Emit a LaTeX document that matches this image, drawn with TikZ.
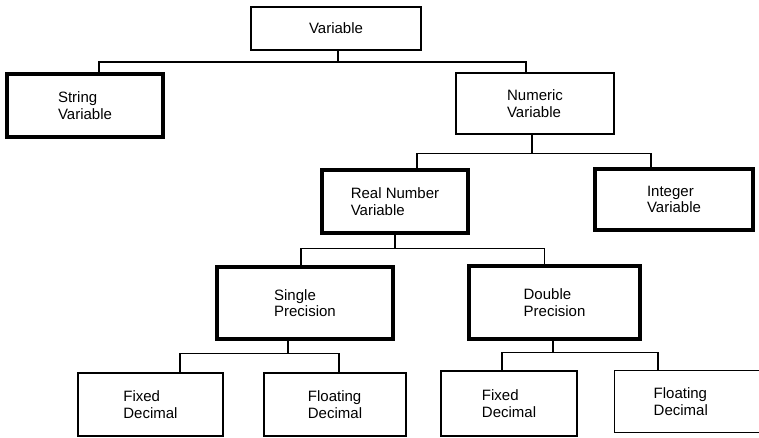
\documentclass[tikz,border=0pt]{standalone}
\usepackage{fontspec}
\setmainfont{Liberation Sans}
\begin{document}
\begin{tikzpicture}[x=1pt,y=-1pt,
  plainbox/.style={draw, align=left, inner sep=0pt, line width=1.4pt,
    font=\fontsize{15}{16.5}\selectfont},
  thickbox/.style={plainbox, line width=3.1pt},
  conn/.style={line width=1.1pt}]
\clip (0,0) rectangle (759,438);
\fill[white] (0,0) rectangle (759,438);
% boxes: centre, width, height
\node[plainbox, line width=2pt, minimum width=170, minimum height=43] (var) at (336,28.5) {Variable};
\node[thickbox, minimum width=156, minimum height=63] (str) at (85,105.5) {String\\Variable};
\node[plainbox, line width=2.3pt, minimum width=158, minimum height=61] (num) at (535,103.5) {Numeric\\Variable};
\node[thickbox, minimum width=146, minimum height=63] (real) at (395,201.5) {Real Number\\Variable};
\node[thickbox, minimum width=158, minimum height=61] (int) at (674,199.5) {Integer\\Variable};
\node[thickbox, minimum width=176, minimum height=72] (sgl) at (305,303) {Single\\Precision};
\node[thickbox, line width=3.3pt, minimum width=171, minimum height=73] (dbl) at (554.5,302.5) {Double\\Precision};
\node[plainbox, minimum width=145, minimum height=63] (fx1) at (150.5,404.5) {Fixed\\Decimal};
\node[plainbox, minimum width=142, minimum height=63] (fl1) at (335,404.5) {Floating\\Decimal};
\node[plainbox, minimum width=136, minimum height=65] (fx2) at (509,403.5) {Fixed\\Decimal};
\node[plainbox, minimum width=156, minimum height=62, anchor=north west, text width=110] (fl2) at (614,370) {\hspace*{16pt}Floating\\\hspace*{16pt}Decimal};
% connectors
\draw[conn] ([xshift=2pt]var.south) -- ++(0,11) coordinate (b1);
\draw[conn] ([xshift=14pt]str.north) |- (b1) -| ([xshift=-9pt]num.north);
\draw[conn] ([xshift=-3pt]num.south) -- ++(0,18) coordinate (b2);
\draw[conn] ([xshift=22pt]real.north) |- (b2) -| ([xshift=-23pt]int.north);
\draw[conn] (real.south) -- ++(0,14) coordinate (b3);
\draw[conn] ([xshift=-4pt]sgl.north) |- (b3) -| ([xshift=-10pt]dbl.north);
\draw[conn] ([xshift=-17pt]sgl.south) -- ++(0,13) coordinate (b4);
\draw[conn] ([xshift=29.5pt]fx1.north) |- (b4) -| ([xshift=4pt]fl1.north);
\draw[conn] ([xshift=-1.5pt]dbl.south) -- ++(0,12) coordinate (b5);
\draw[conn] ([xshift=-7pt]fx2.north) |- (b5) -| ([xshift=44pt]fl2.north west);
\end{tikzpicture}
\end{document}
